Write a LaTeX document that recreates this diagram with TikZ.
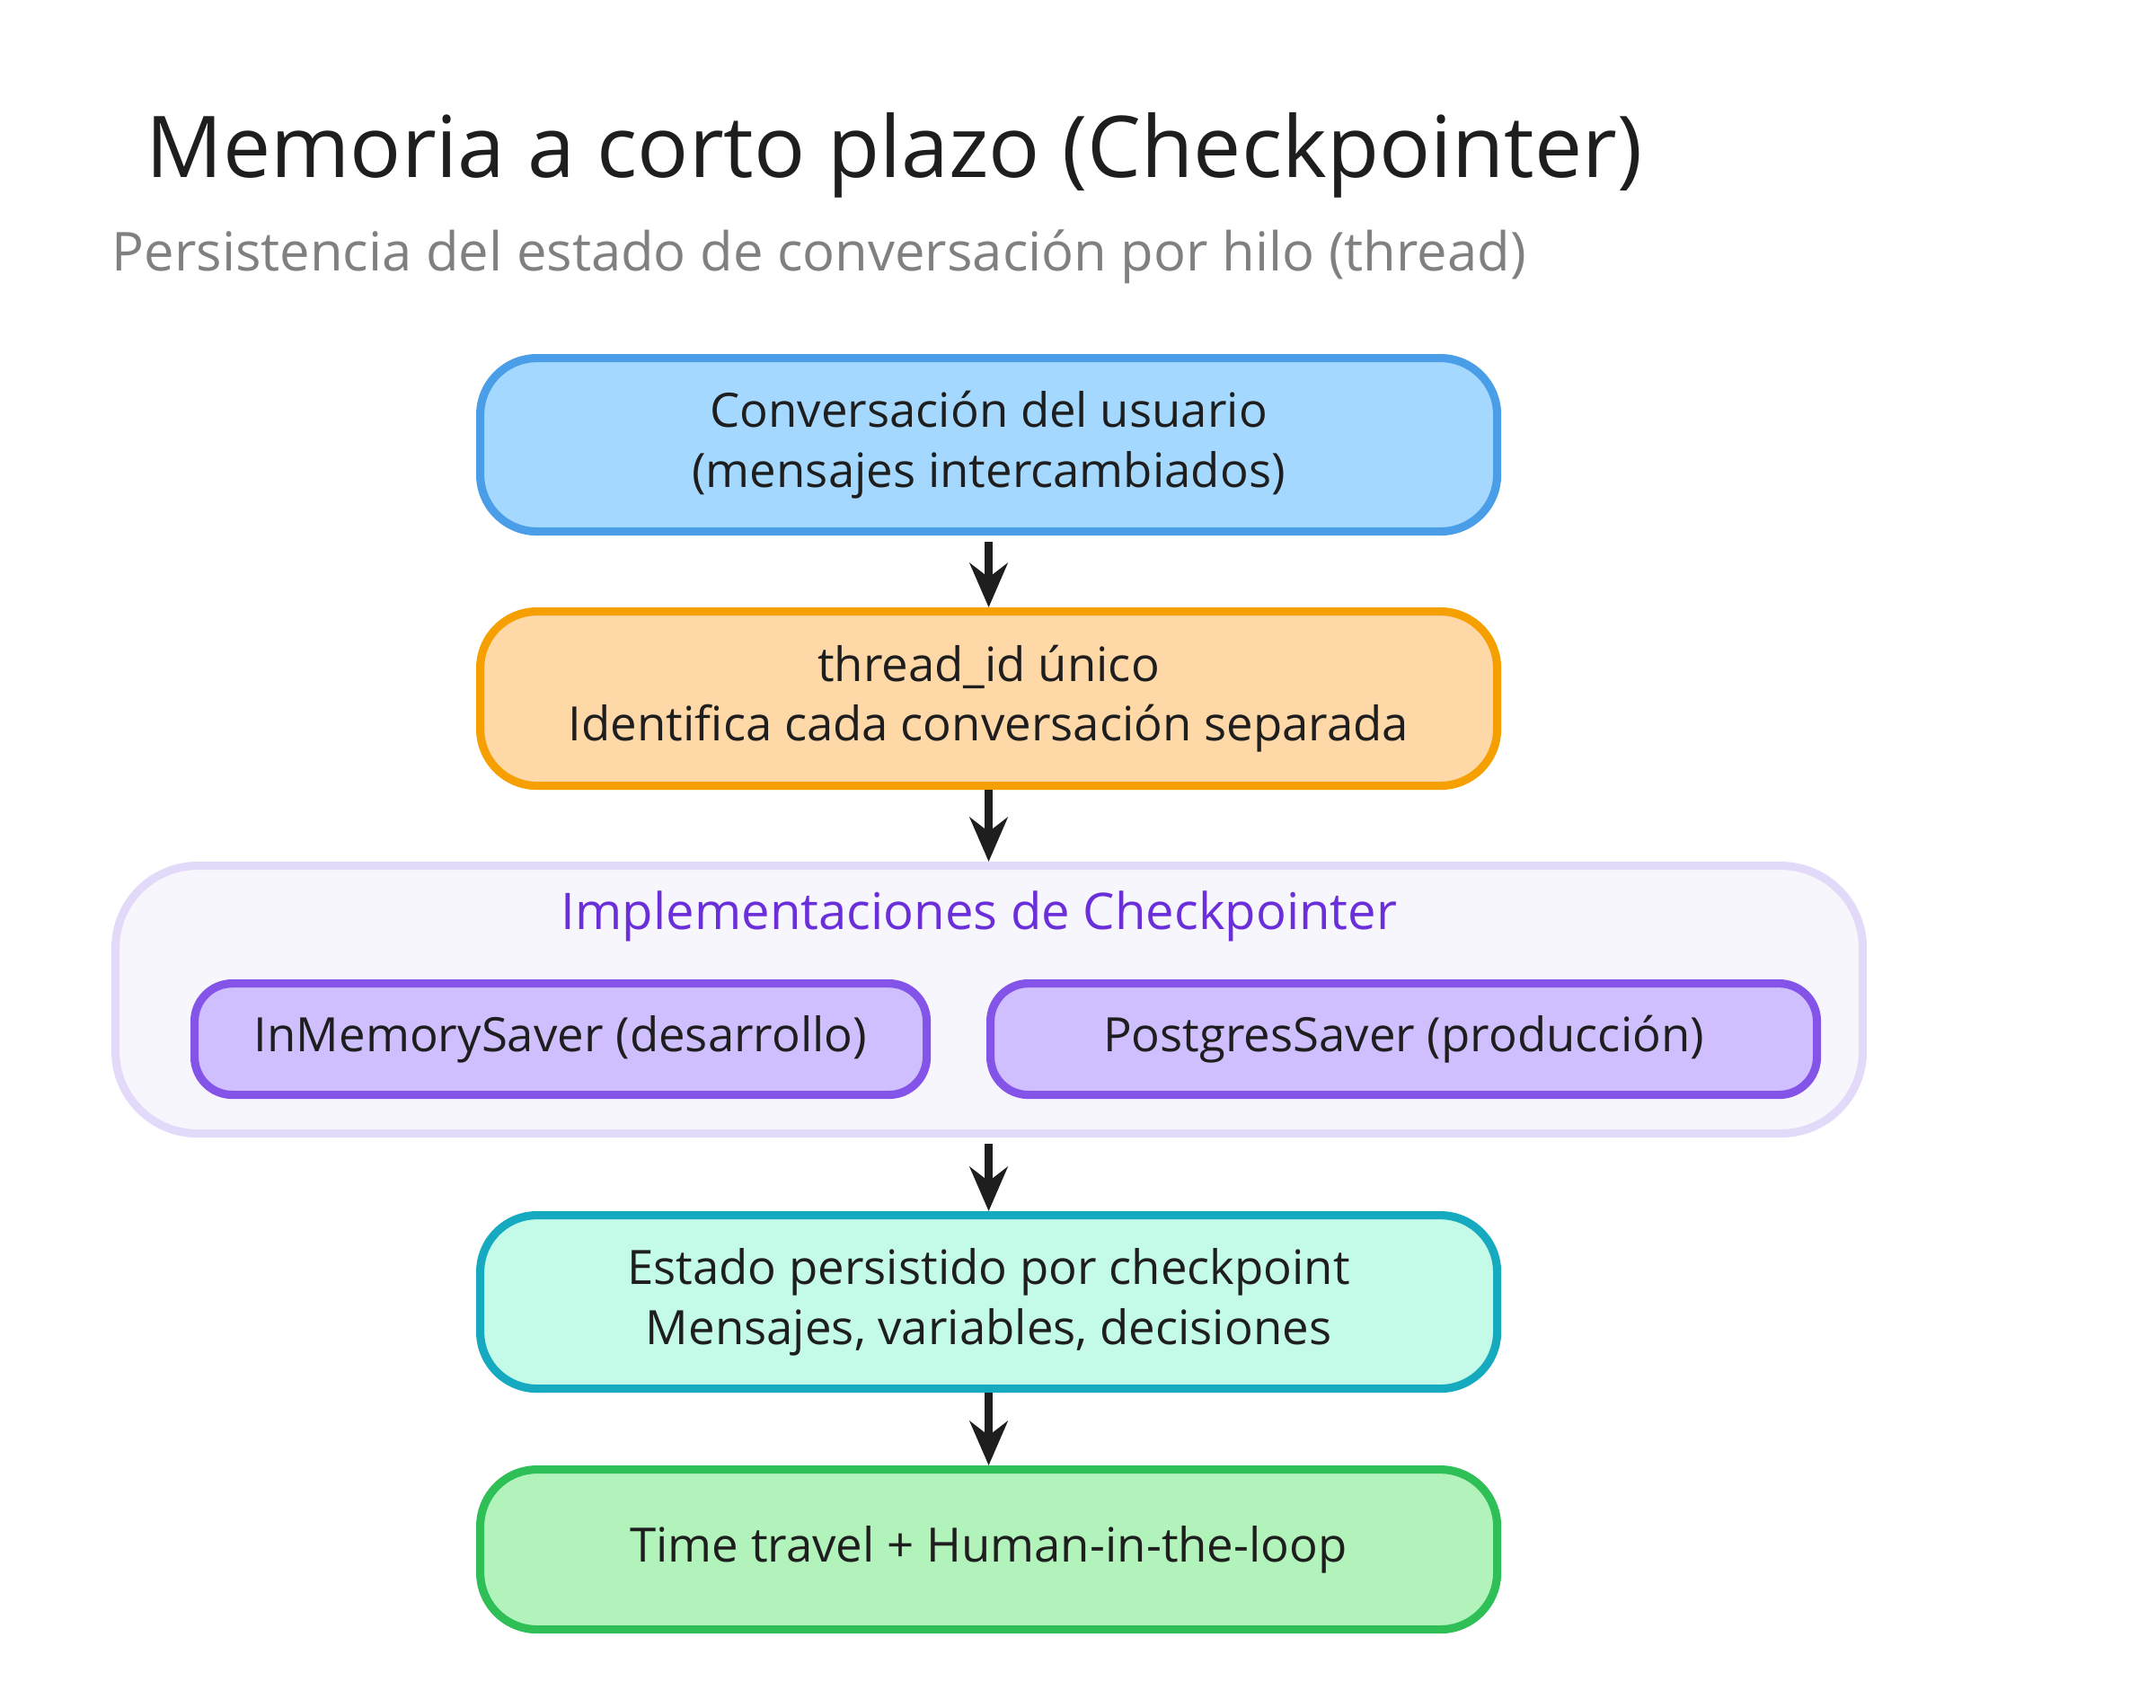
\documentclass[tikz,border=0pt]{standalone}
\usepackage{fontspec}
\setmainfont{Open Sans}
\usetikzlibrary{arrows.meta}
\definecolor{bluef}{HTML}{A5D8FF}\definecolor{bluel}{HTML}{4A9EE8}
\definecolor{orf}{HTML}{FFD8A8}\definecolor{orl}{HTML}{F59F00}
\definecolor{grpf}{HTML}{F8F6FD}\definecolor{grpl}{HTML}{E3DAFA}
\definecolor{vf}{HTML}{D0BFFF}\definecolor{vl}{HTML}{8454E8}
\definecolor{vt}{HTML}{6B2FD9}
\definecolor{tf}{HTML}{C3FAE8}\definecolor{tl}{HTML}{15AABF}
\definecolor{gf}{HTML}{B2F2BB}\definecolor{gl}{HTML}{2FBF57}
\definecolor{ink}{HTML}{1E1E1E}
\tikzset{box/.style={draw,line width=2.6pt,rounded corners=18pt,text=ink,font=\fontsize{15}{19}\selectfont,align=center,anchor=north west,inner sep=0pt},
arr/.style={-{Stealth[length=14pt,width=12pt]},line width=2.4pt,draw=ink}}
\begin{document}
\begin{tikzpicture}[x=1cm,y=-1cm]
\useasboundingbox (0,0) rectangle (24,19);
\node[anchor=west,font=\fontsize{27}{32}\selectfont,text=ink,inner sep=0pt] (t) at (1.62,1.73) {Memoria a corto plazo (Checkpointer)};
\node[anchor=west,font=\fontsize{17}{20}\selectfont,text=gray,inner sep=0pt] (s) at (1.24,2.86) {Persistencia del estado de conversación por hilo (thread)};
\node[box,fill=bluef,draw=bluel,minimum width=11.32cm,minimum height=1.93cm] (b1) at (5.30,3.94) {Conversación del usuario\\(mensajes intercambiados)};
\node[box,fill=orf,draw=orl,minimum width=11.32cm,minimum height=1.94cm] (b2) at (5.30,6.76) {thread\_id único\\Identifica cada conversación separada};
\node[box,fill=grpf,draw=grpl,minimum width=19.45cm,minimum height=2.98cm,rounded corners=26pt] (g) at (1.24,9.59) {};
\node[font=\fontsize{16}{20}\selectfont,text=vt] (gt) at (10.9,10.20) {Implementaciones de Checkpointer};
\node[box,fill=vf,draw=vl,minimum width=8.15cm,minimum height=1.24cm,rounded corners=12pt] (i1) at (2.12,10.90) {InMemorySaver (desarrollo)};
\node[box,fill=vf,draw=vl,minimum width=9.2cm,minimum height=1.24cm,rounded corners=12pt] (i2) at (10.98,10.90) {PostgresSaver (producción)};
\node[box,fill=tf,draw=tl,minimum width=11.32cm,minimum height=1.93cm] (b4) at (5.30,13.48) {Estado persistido por checkpoint\\Mensajes, variables, decisiones};
\node[box,fill=gf,draw=gl,minimum width=11.32cm,minimum height=1.78cm] (b5) at (5.30,16.31) {Time travel + Human-in-the-loop};
\draw[arr] ([yshift=-2pt]b1.south) -- (b1.south |- b2.north);
\draw[arr] (b2.south) -- (b2.south |- g.north);
\draw[arr] ([yshift=-2pt]b4.north |- g.south) -- (b4.north);
\draw[arr] (b4.south) -- (b5.north);
\end{tikzpicture}
\end{document}
